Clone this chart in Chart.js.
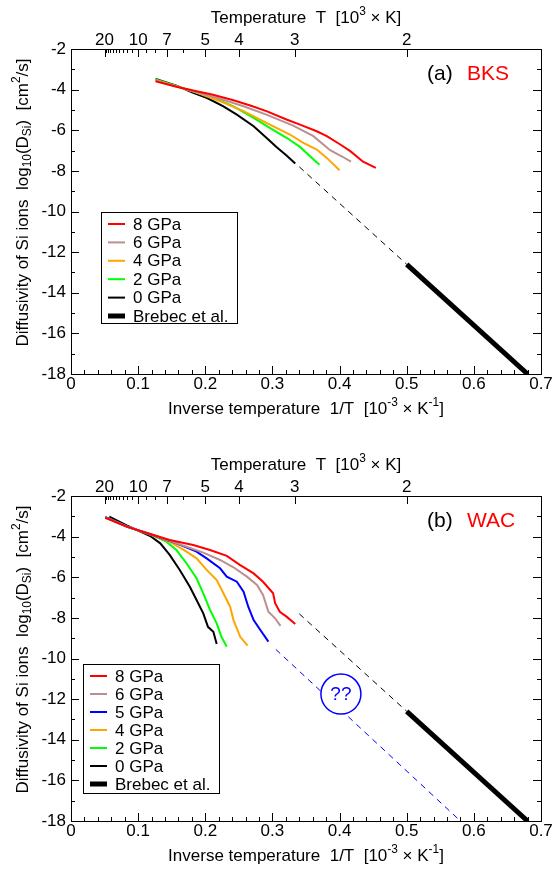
<!DOCTYPE html>
<html>
<head>
<meta charset="utf-8">
<script src="https://cdn.jsdelivr.net/npm/chart.js@4.4.0/dist/chart.umd.min.js"></script>
<style>
  html, body { margin: 0; padding: 0; background: #fff; overflow: hidden; }
  canvas { display: block; }
</style>
</head>
<body>
<canvas id="graficoBKS" width="555" height="447"></canvas>
<canvas id="graficoWAC" width="555" height="422"></canvas>
<script>
// ---- datos (1/T en 10^-3 K^-1, log10 D) ----
const tempLabels = [20, 10, 7, 5, 4, 3, 2];
const tempMinor = [19, 18, 17, 16, 15, 14, 13, 12, 11, 9, 8, 6];

// panel (a) BKS
const bks8 = [[0.126,-3.59],[0.157,-3.86],[0.187,-4.08],[0.21,-4.24],[0.242,-4.52],[0.267,-4.78],[0.291,-5.06],[0.321,-5.47],[0.341,-5.72],[0.366,-6.05],[0.381,-6.29],[0.401,-6.7],[0.416,-7.03],[0.435,-7.55],[0.454,-7.85]];
const bks6 = [[0.126,-3.55],[0.157,-3.84],[0.182,-4.08],[0.222,-4.45],[0.257,-4.82],[0.291,-5.23],[0.331,-5.77],[0.361,-6.29],[0.386,-6.98],[0.403,-7.28],[0.417,-7.55]];
const bks4 = [[0.126,-3.54],[0.157,-3.84],[0.182,-4.08],[0.222,-4.57],[0.257,-5.06],[0.291,-5.64],[0.326,-6.21],[0.346,-6.62],[0.366,-6.95],[0.381,-7.36],[0.4,-7.97]];
const bks2 = [[0.126,-3.5],[0.157,-3.82],[0.182,-4.1],[0.212,-4.4],[0.242,-4.82],[0.272,-5.39],[0.296,-5.88],[0.321,-6.37],[0.341,-6.82],[0.356,-7.28],[0.37,-7.7]];
const bks0 = [[0.126,-3.47],[0.157,-3.8],[0.182,-4.16],[0.202,-4.4],[0.227,-4.82],[0.247,-5.23],[0.272,-5.8],[0.291,-6.37],[0.306,-6.82],[0.321,-7.24],[0.334,-7.64]];

// panel (b) WAC
const wac8 = [[0.051,-3.07],[0.083,-3.51],[0.118,-3.87],[0.147,-4.17],[0.182,-4.41],[0.207,-4.66],[0.232,-4.95],[0.252,-5.4],[0.272,-5.81],[0.286,-6.22],[0.301,-6.79],[0.304,-7.28],[0.311,-7.7],[0.321,-7.94],[0.334,-8.3]];
const wac6 = [[0.051,-3.05],[0.083,-3.5],[0.118,-3.87],[0.147,-4.2],[0.172,-4.5],[0.197,-4.79],[0.222,-5.15],[0.242,-5.51],[0.262,-5.97],[0.277,-6.38],[0.286,-6.87],[0.294,-7.7],[0.304,-8.02],[0.312,-8.39]];
const wac5 = [[0.051,-3.04],[0.083,-3.5],[0.118,-3.88],[0.157,-4.33],[0.187,-4.74],[0.202,-5.07],[0.222,-5.56],[0.232,-5.97],[0.247,-6.22],[0.257,-6.71],[0.264,-7.45],[0.272,-8.11],[0.282,-8.6],[0.294,-9.17]];
const wac4 = [[0.051,-3.04],[0.083,-3.5],[0.118,-3.9],[0.147,-4.25],[0.172,-4.74],[0.187,-5.07],[0.202,-5.64],[0.217,-6.14],[0.227,-6.79],[0.237,-7.45],[0.242,-8.11],[0.252,-8.93],[0.263,-9.37]];
const wac2 = [[0.051,-3.03],[0.083,-3.5],[0.118,-3.9],[0.142,-4.25],[0.157,-4.66],[0.172,-5.31],[0.187,-6.05],[0.197,-6.79],[0.207,-7.61],[0.217,-8.27],[0.224,-8.93],[0.232,-9.42]];
const wac0 = [[0.057,-3.02],[0.083,-3.45],[0.118,-3.97],[0.133,-4.33],[0.147,-4.9],[0.162,-5.64],[0.177,-6.47],[0.187,-7.12],[0.197,-7.78],[0.204,-8.44],[0.212,-8.68],[0.217,-9.29]];

// Brebec et al. y extrapolaciones
const brebec = [[0.5,-12.6],[0.68,-18]];
const brebecExtrap = [[0.34,-7.8],[0.5,-12.6]];
const wac5Extrap = [[0.305,-9.55],[0.58,-18]];
const signoPregunta = [0.402,-11.75];

const FONT = '"Liberation Sans", Arial, Helvetica, sans-serif';

function toXY(arr) { return arr.map(p => ({x: p[0], y: p[1]})); }

function serie(label, arr, color, width, dash) {
  return {
    label: label,
    data: toXY(arr),
    borderColor: color,
    backgroundColor: color,
    borderWidth: width || 2,
    borderDash: dash || [],
    pointRadius: 0,
    tension: 0,
    fill: false
  };
}

// texto con super/subindices
function richText(ctx, parts, x, y, size) {
  let total = 0;
  parts.forEach(p => {
    ctx.font = (p[1] ? size * 0.7 : size) + 'px ' + FONT;
    total += ctx.measureText(p[0]).width;
  });
  let cx = x - total / 2;
  ctx.textAlign = 'left';
  ctx.textBaseline = 'middle';
  parts.forEach(p => {
    const s = p[1] ? size * 0.7 : size;
    ctx.font = s + 'px ' + FONT;
    let dy = 0;
    if (p[1] === 'sup') dy = -size * 0.38;
    if (p[1] === 'sub') dy = size * 0.28;
    ctx.fillText(p[0], cx, y + dy);
    cx += ctx.measureText(p[0]).width;
  });
}

const ejesPlugin = {
  id: 'ejes',
  afterDraw(chart, args, opts) {
    const ctx = chart.ctx;
    const a = chart.chartArea;
    const sx = chart.scales.x, sy = chart.scales.y;
    ctx.save();
    ctx.strokeStyle = '#000';
    ctx.lineWidth = 1;
    ctx.strokeRect(Math.round(a.left) + 0.5, Math.round(a.top) + 0.5, Math.round(a.right - a.left), Math.round(a.bottom - a.top));
    ctx.beginPath();
    // eje inferior
    for (let i = 0; i <= 35; i++) {
      const px = Math.round(sx.getPixelForValue(i * 0.02)) + 0.5;
      const len = i % 5 === 0 ? 8 : 4;
      ctx.moveTo(px, a.bottom); ctx.lineTo(px, a.bottom - len);
    }
    // eje izquierdo y derecho
    for (let i = -18; i <= -2; i++) {
      const py = Math.round(sy.getPixelForValue(i)) + 0.5;
      const len = i % 2 === 0 ? 8 : 4;
      ctx.moveTo(a.left, py); ctx.lineTo(a.left + len, py);
      ctx.moveTo(a.right, py); ctx.lineTo(a.right - len, py);
    }
    // eje superior (temperatura)
    tempLabels.forEach(t => {
      const px = Math.round(sx.getPixelForValue(1 / t)) + 0.5;
      ctx.moveTo(px, a.top); ctx.lineTo(px, a.top + 8);
    });
    tempMinor.forEach(t => {
      const px = Math.round(sx.getPixelForValue(1 / t)) + 0.5;
      ctx.moveTo(px, a.top); ctx.lineTo(px, a.top + 4);
    });
    ctx.stroke();

    // titulos de ejes
    ctx.fillStyle = '#000';
    const midX = (a.left + a.right) / 2;
    richText(ctx, [['Temperature  T  [10'], ['3', 'sup'], [' \u00d7 K]']], midX, a.top - 31, 17);
    richText(ctx, [['Inverse temperature  1/T  [10'], ['-3', 'sup'], [' \u00d7 K'], ['-1', 'sup'], [']']], midX, a.bottom + 35, 17);
    ctx.save();
    ctx.translate(23, (a.top + a.bottom) / 2 - 9);
    ctx.rotate(-Math.PI / 2);
    richText(ctx, [['Diffusivity of Si ions  log'], ['10', 'sub'], ['(D'], ['Si', 'sub'], [')  [cm'], ['2', 'sup'], ['/s]']], 0, 0, 17);
    ctx.restore();

    // etiqueta del panel
    ctx.font = '21px ' + FONT;
    ctx.textAlign = 'left';
    ctx.textBaseline = 'middle';
    ctx.fillStyle = '#000';
    ctx.fillText(opts.tag, a.left + 356, a.top + 25);
    ctx.fillStyle = '#ff0000';
    ctx.fillText(opts.name, a.left + 396, a.top + 25);

    // leyenda
    const L = opts.legend;
    ctx.fillStyle = '#fff';
    ctx.fillRect(L.left, L.top, L.right - L.left, L.bottom - L.top);
    ctx.strokeStyle = '#000';
    ctx.lineWidth = 1;
    ctx.strokeRect(L.left + 0.5, L.top + 0.5, L.right - L.left, L.bottom - L.top);
    let row = L.first;
    chart.data.datasets.forEach(ds => {
      if (!ds.label) return;
      ctx.beginPath();
      ctx.strokeStyle = ds.borderColor;
      ctx.lineWidth = ds.borderWidth;
      ctx.setLineDash([]);
      ctx.moveTo(L.left + 7, row); ctx.lineTo(L.left + 24, row);
      ctx.stroke();
      ctx.fillStyle = '#000';
      ctx.font = '17px ' + FONT;
      ctx.fillText(ds.label, L.left + 32, row + 1);
      row += L.step;
    });

    // circulo "??"
    if (opts.circle) {
      const cx = sx.getPixelForValue(opts.circle[0]);
      const cy = sy.getPixelForValue(opts.circle[1]);
      ctx.beginPath();
      ctx.arc(cx, cy, 20, 0, Math.PI * 2);
      ctx.fillStyle = '#fff';
      ctx.fill();
      ctx.strokeStyle = '#0000ff';
      ctx.lineWidth = 1.5;
      ctx.stroke();
      ctx.fillStyle = '#0000ff';
      ctx.font = '19px ' + FONT;
      ctx.textAlign = 'center';
      ctx.fillText('??', cx, cy + 1);
    }
    ctx.restore();
  }
};

function crearGrafico(canvasId, datasets, tag, name, legend, circle, bottomH) {
  const ctx = document.getElementById(canvasId).getContext('2d');
  const tickFont = { family: FONT, size: 17 };
  new Chart(ctx, {
    type: 'line',
    data: { datasets: datasets },
    plugins: [ejesPlugin],
    options: {
      responsive: false,
      animation: false,
      devicePixelRatio: 1,
      layout: { padding: { left: 0, right: 14, top: 0, bottom: 0 } },
      plugins: {
        legend: { display: false },
        tooltip: { enabled: false },
        ejes: { tag: tag, name: name, legend: legend, circle: circle }
      },
      scales: {
        x: {
          type: 'linear', position: 'bottom', min: 0, max: 0.7,
          grid: { display: false, drawTicks: false },
          border: { display: false },
          ticks: { stepSize: 0.1, color: '#000', font: tickFont, padding: 0, maxRotation: 0 },
          afterFit: s => { s.height = bottomH; }
        },
        x2: {
          type: 'linear', position: 'top', min: 0, max: 0.7,
          grid: { display: false, drawTicks: false },
          border: { display: false },
          afterBuildTicks: s => { s.ticks = tempLabels.map(t => ({ value: 1 / t })); },
          ticks: {
            autoSkip: false, maxRotation: 0, color: '#000', font: tickFont, padding: -2,
            callback: v => String(Math.round(1 / v))
          },
          afterFit: s => { s.height = 49; }
        },
        y: {
          type: 'linear', min: -18, max: -2,
          grid: { display: false, drawTicks: false },
          border: { display: false },
          ticks: { stepSize: 2, color: '#000', font: tickFont, padding: 5 },
          afterFit: s => { s.width = 71; }
        }
      }
    }
  });
}

crearGrafico('graficoBKS', [
  serie('8 GPa', bks8, '#ff0000'),
  serie('6 GPa', bks6, '#bc8f8f'),
  serie('4 GPa', bks4, '#ffa500'),
  serie('2 GPa', bks2, '#00ff00'),
  serie('0 GPa', bks0, '#000000'),
  serie('Brebec et al.', brebec, '#000000', 5),
  serie('', brebecExtrap, '#000000', 1, [6, 5])
], '(a)', 'BKS', { left: 101, top: 212, right: 237, bottom: 323, first: 224, step: 18.4 }, null, 73);

crearGrafico('graficoWAC', [
  serie('8 GPa', wac8, '#ff0000'),
  serie('6 GPa', wac6, '#bc8f8f'),
  serie('5 GPa', wac5, '#0000ff'),
  serie('4 GPa', wac4, '#ffa500'),
  serie('2 GPa', wac2, '#00ff00'),
  serie('0 GPa', wac0, '#000000'),
  serie('Brebec et al.', brebec, '#000000', 5),
  serie('', brebecExtrap, '#000000', 1, [6, 5]),
  serie('', wac5Extrap, '#0000ff', 1, [6, 5])
], '(b)', 'WAC', { left: 83, top: 217, right: 219, bottom: 346, first: 229, step: 18 }, signoPregunta, 48);
</script>
</body>
</html>
